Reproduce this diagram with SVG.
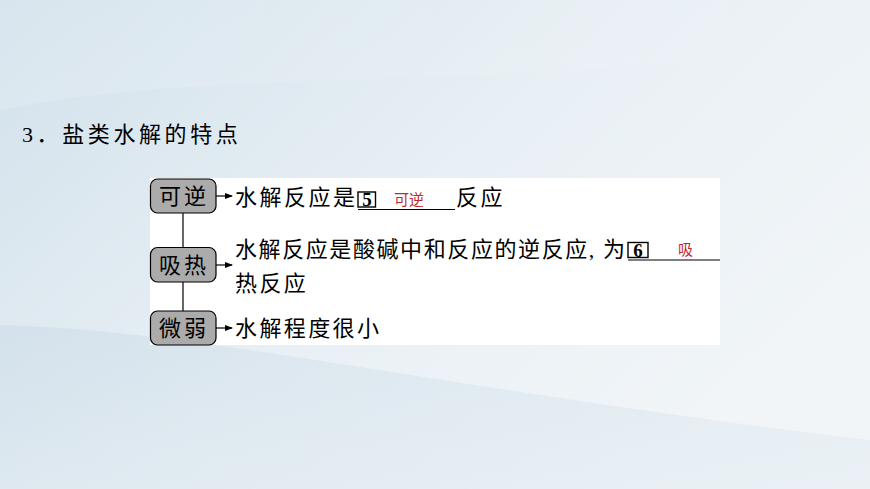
<svg xmlns="http://www.w3.org/2000/svg" width="870" height="489" viewBox="0 0 870 489">
<defs>
<linearGradient id="bg" x1="0" y1="0" x2="1" y2="0.6">
<stop offset="0" stop-color="#d2e1eb"/>
<stop offset="0.55" stop-color="#e9f0f5"/>
<stop offset="1" stop-color="#f1f5f8"/>
</linearGradient>
<linearGradient id="band" x1="0" y1="0" x2="1" y2="0">
<stop offset="0" stop-color="#ffffff" stop-opacity="0.15"/>
<stop offset="1" stop-color="#ffffff" stop-opacity="0"/>
</linearGradient>
<linearGradient id="low" x1="0" y1="0" x2="1" y2="1">
<stop offset="0" stop-color="#c9dae6"/>
<stop offset="1" stop-color="#e4edf3"/>
</linearGradient>
<marker id="arr" markerWidth="8" markerHeight="6" refX="7" refY="3" orient="auto" markerUnits="userSpaceOnUse">
<path d="M0,0 L8,3 L0,6 z" fill="#000"/>
</marker>
</defs>
<style>
.node rect{fill:#ababab;stroke:#000;stroke-width:1.2}
.node text{font-family:"Liberation Serif","Noto Sans CJK SC",serif;font-size:22px;fill:#000;text-anchor:middle;letter-spacing:3px}
.t{font-family:"Liberation Serif","Noto Sans CJK SC",serif;font-size:22px;fill:#000;letter-spacing:2.4px}
.tf{font-family:"Liberation Serif","Noto Sans CJK SC",serif;font-size:22px;fill:#000}
.red{font-family:"Liberation Serif","Noto Sans CJK SC",serif;font-size:15px;fill:#c0282d}
.conn line{stroke:#000;stroke-width:1.2}
.num{font-family:"Liberation Serif",serif;font-weight:bold;font-size:19px;fill:#000;text-anchor:middle}
</style>
<rect x="0" y="0" width="870" height="489" fill="url(#bg)"/>
<path d="M0,325 C200,330 450,390 870,440 L870,489 L0,489 z" fill="url(#low)" opacity="0.5"/>
<path d="M0,110 C250,60 550,100 870,30 L870,0 L0,0 z" fill="url(#band)"/>
<text x="22" y="142" style="font-family:'Liberation Serif','Noto Sans CJK SC',serif;font-size:22px;fill:#000;letter-spacing:3.6px">3．盐类水解的特点</text>
<rect x="150" y="178" width="570" height="167" fill="#ffffff"/>
<g class="conn">
<line x1="183" y1="213" x2="183" y2="247"/>
<line x1="183" y1="282" x2="183" y2="311"/>
<line x1="216" y1="196" x2="232" y2="196" marker-end="url(#arr)"/>
<line x1="216" y1="265" x2="232" y2="265" marker-end="url(#arr)"/>
<line x1="216" y1="328" x2="232" y2="328" marker-end="url(#arr)"/>
</g>
<g id="node-keni" class="node"><rect x="150.5" y="179" width="65.5" height="34" rx="7"/><text x="184" y="204">可逆</text></g>
<g id="node-xire" class="node"><rect x="150.5" y="247.5" width="65.5" height="34.5" rx="7"/><text x="184" y="273">吸热</text></g>
<g id="node-weiruo" class="node"><rect x="150.5" y="311" width="65.5" height="34" rx="7"/><text x="184" y="336">微弱</text></g>
<g id="text1">
<text class="tf" x="235" y="205" textLength="120" lengthAdjust="spacing">水解反应是</text>
<rect x="358" y="192" width="17.5" height="15" fill="none" stroke="#000" stroke-width="1.4"/>
<text class="num" x="367" y="205.5">5</text>
<line x1="358" y1="209.5" x2="455" y2="209.5" stroke="#000" stroke-width="1.2"/>
<text class="red" x="394" y="205">可逆</text>
<text class="t" x="456" y="205">反应</text>
</g>
<g id="text2">
<text class="tf" x="235" y="257" textLength="390" lengthAdjust="spacing">水解反应是酸碱中和反应的逆反应, 为</text>
<rect x="628" y="242.5" width="20" height="15" fill="none" stroke="#000" stroke-width="1.4"/>
<text class="num" x="638" y="256.5">6</text>
<line x1="628" y1="260" x2="720" y2="260" stroke="#000" stroke-width="1.2"/>
<text class="red" x="678" y="255">吸</text>
<text class="t" x="235" y="291">热反应</text>
</g>
<g id="text3">
<text class="t" x="235" y="336">水解程度很小</text>
</g>
</svg>
